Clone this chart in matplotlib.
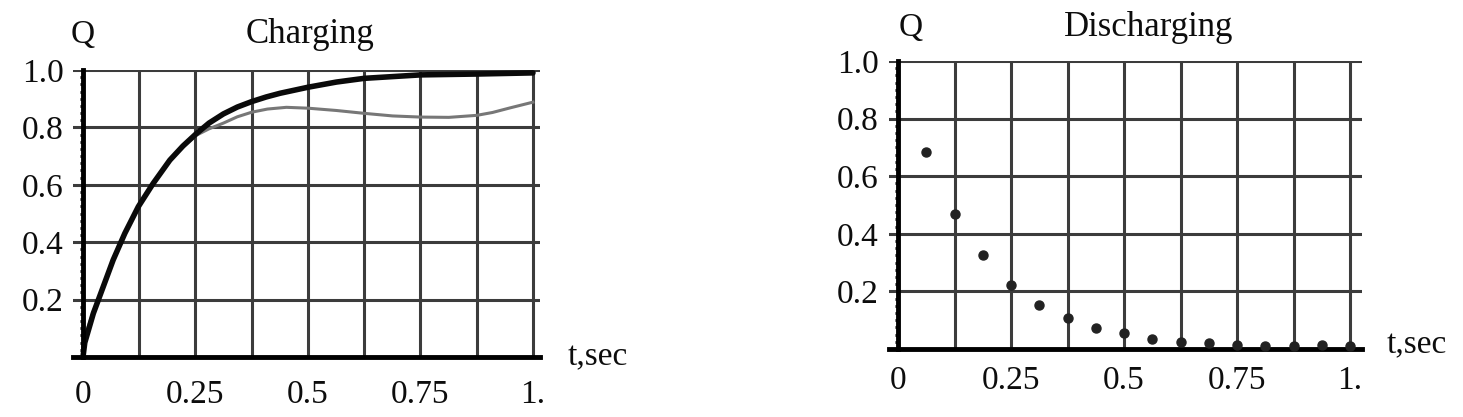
import matplotlib
matplotlib.use("Agg")
import numpy as np
from matplotlib import pyplot as plt

# charging: exact curve (black) and approximation (gray)
charge_t = [0, 0.004, 0.023, 0.045, 0.067, 0.093, 0.123, 0.156, 0.193, 0.222, 0.251,
            0.28, 0.312, 0.343, 0.375, 0.407, 0.438, 0.5, 0.563, 0.625, 0.75, 0.875, 1.0]
charge_q = [0, 0.05, 0.152, 0.245, 0.338, 0.431, 0.524, 0.605, 0.686, 0.735, 0.777,
            0.815, 0.847, 0.871, 0.89, 0.906, 0.919, 0.94, 0.958, 0.971, 0.983, 0.986, 0.99]
approx_t = [0, 0.004, 0.023, 0.045, 0.067, 0.093, 0.123, 0.156, 0.193, 0.222, 0.251,
            0.28, 0.312, 0.343, 0.375, 0.41, 0.452, 0.5, 0.563, 0.625, 0.688, 0.75, 0.813,
            0.875, 0.91, 0.949, 1.0]
approx_q = [0.03, 0.07, 0.16, 0.245, 0.338, 0.431, 0.524, 0.605, 0.686, 0.733, 0.772,
            0.795, 0.815, 0.837, 0.853, 0.864, 0.87, 0.867, 0.859, 0.849, 0.84, 0.836, 0.835,
            0.842, 0.852, 0.868, 0.888]

# discharging points
dis_t = [0.0625, 0.125, 0.1875, 0.25, 0.3125, 0.375, 0.4375, 0.5,
         0.5625, 0.625, 0.6875, 0.75, 0.8125, 0.875, 0.9375, 1.0]
dis_q = [0.684, 0.47, 0.326, 0.222, 0.153, 0.106, 0.072, 0.054,
         0.034, 0.023, 0.02, 0.014, 0.012, 0.011, 0.014, 0.012]

grid_x = np.arange(0, 1.0001, 0.125)
xlabels = ['0', '', '0.25', '', '0.5', '', '0.75', '', '1.']
yticks = [0.2, 0.4, 0.6, 0.8, 1.0]
ylabels = ['0.2', '0.4', '0.6', '0.8', '1.0']

plt.rcParams['font.family'] = ['Liberation Serif', 'DejaVu Serif']

fig = plt.figure(figsize=(14.63, 4.17), dpi=100)
ax1 = fig.add_axes([0.0499, 0.1439, 0.3192, 0.6882])
ax2 = fig.add_axes([0.6077, 0.1631, 0.3233, 0.6906])


def style(ax, xl, xpad, title, tpos, qpos, tsec):
    ax.set_xlim(*xl)
    ax.set_ylim(0, 1.0)
    ax.set_xticks(grid_x)
    ax.set_xticklabels(xlabels)
    ax.set_yticks(yticks)
    ax.set_yticklabels(ylabels)
    ax.set_yticks(np.arange(0, 1.0001, 0.025), minor=True)
    ax.tick_params(axis='x', length=0, pad=xpad, labelsize=24, labelcolor='#0d0d0d')
    ax.tick_params(axis='y', which='major', length=0, pad=14, labelsize=24, labelcolor='#0d0d0d')
    ax.tick_params(axis='y', which='minor', length=2.5, width=2, direction='out', color='black')
    ax.grid(True, color='#3c3c3c', linewidth=2.2)
    ax.set_axisbelow(True)
    for s in ['top', 'right']:
        ax.spines[s].set_visible(False)
    ax.spines['left'].set_position(('data', 0))
    ax.spines['left'].set_linewidth(3.5)
    ax.spines['bottom'].set_linewidth(3.5)
    ax.spines['left'].set_zorder(5)
    ax.text(qpos[0], qpos[1], 'Q', fontsize=24, ha='center', va='center', color='#0d0d0d')
    ax.text(tpos[0], tpos[1], title, fontsize=25, ha='center', va='center', color='#0d0d0d')
    ax.text(tsec[0], tsec[1], 't,sec', fontsize=24, ha='center', va='center',
            color='#0d0d0d', clip_on=False)


ax1.plot(approx_t, approx_q, color='#777777', linewidth=2.2, zorder=3,
         solid_joinstyle='round')
ax1.plot(charge_t, charge_q, color='#0a0a0a', linewidth=4, zorder=4,
         solid_joinstyle='round', solid_capstyle='round')
style(ax1, (-0.0222, 1.0156), 16, 'Charging', (0.504, 1.125), (0.0, 1.122), (1.144, 0.0))

ax2.plot(dis_t, dis_q, 'o', color='#222222', markersize=6.5, zorder=4, clip_on=False)
style(ax2, (-0.0199, 1.0265), 12, 'Discharging', (0.555, 1.115), (0.027, 1.115), (1.148, 0.014))

fig.savefig('out.png', dpi=100, facecolor='white')
